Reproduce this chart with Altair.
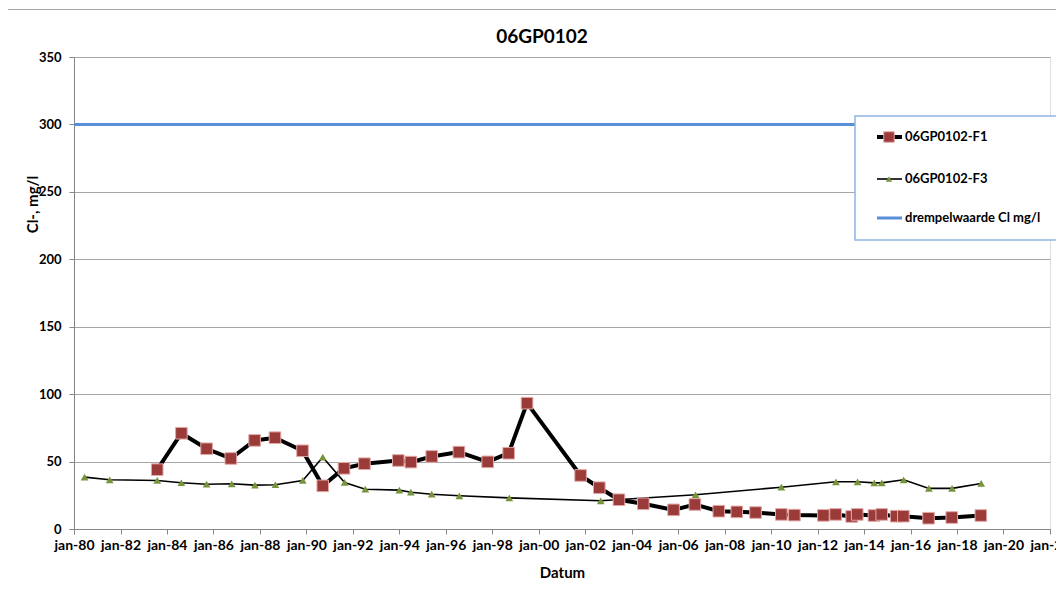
import altair as alt
import pandas as pd

# ---- data ----
f1_dates = ["1983-08-01", "1984-08-15", "1985-09-15", "1986-10-01", "1987-10-10",
            "1988-08-25", "1989-11-01", "1990-09-15", "1991-08-15", "1992-07-01",
            "1993-12-15", "1994-07-01", "1995-05-25", "1996-07-25", "1997-10-20",
            "1998-09-15", "1999-07-01", "2001-10-20", "2002-08-10", "2003-06-15",
            "2004-07-01", "2005-10-20", "2006-09-20", "2007-10-01", "2008-07-10",
            "2009-05-01", "2010-06-10", "2011-01-01", "2012-04-01", "2012-10-10",
            "2013-06-20", "2013-09-15", "2014-06-05", "2014-10-05", "2015-05-20",
            "2015-09-10", "2016-10-10", "2017-10-10", "2019-01-10"]
f1_values = [44.0, 71.0, 59.5, 52.3, 65.7, 67.7, 58.0, 32.0, 45.0, 48.4,
             50.8, 49.6, 53.8, 57.0, 49.8, 56.2, 93.3, 39.7, 30.6, 21.7,
             18.7, 14.2, 18.2, 13.2, 12.7, 12.2, 10.8, 10.3, 10.1, 10.8,
             9.3, 10.8, 10.0, 10.8, 9.5, 9.5, 8.0, 8.5, 10.0]

f3_dates = ["1980-06-15", "1981-07-15", "1983-08-01", "1984-08-15", "1985-09-15",
            "1986-10-15", "1987-10-15", "1988-09-01", "1989-11-05", "1990-09-15",
            "1991-08-25", "1992-07-15", "1994-01-01", "1994-07-01", "1995-05-25",
            "1996-08-01", "1998-09-25", "2002-09-01", "2006-10-01", "2010-06-10",
            "2012-10-15", "2013-09-20", "2014-06-10", "2014-10-05", "2015-09-15",
            "2016-10-15", "2017-10-15", "2019-01-15"]
f3_values = [38.5, 36.5, 36.0, 34.3, 33.2, 33.5, 32.5, 32.8, 36.0, 53.3,
             34.5, 29.5, 28.8, 27.3, 25.8, 24.6, 23.1, 20.9, 25.4, 31.0,
             35.0, 35.0, 34.2, 34.2, 36.5, 30.1, 30.1, 33.8]

threshold_dates = ["1980-01-01", "2022-01-01"]
threshold_values = [300, 300]

tick_years = list(range(1980, 2023, 2))
y_ticks = [0, 50, 100, 150, 200, 250, 300, 350]
legend_labels = ["06GP0102-F1", "06GP0102-F3", "drempelwaarde Cl mg/l"]
chart_title = "06GP0102"

FONT = "Lato"
RED = "#9B3B39"
GREEN = "#77933C"
BLUE = "#5A8FD8"

f1 = pd.DataFrame({"date": f1_dates, "value": f1_values})
f3 = pd.DataFrame({"date": f3_dates, "value": f3_values})
thr = pd.DataFrame({"date": threshold_dates, "value": threshold_values})

x_enc = alt.X(
    "date:T",
    scale=alt.Scale(domain=[alt.DateTime(year=1980, month=1, date=1),
                            alt.DateTime(year=2022, month=1, date=1)], nice=False),
    axis=alt.Axis(
        values=[alt.DateTime(year=y, month=1, date=1) for y in tick_years],
        labelExpr="'jan-' + timeFormat(datum.value, '%y')",
        grid=False, title="Datum", titleFont=FONT, titleFontSize=15,
        titleFontWeight="bold", titleColor="black", titleY=36, titleBaseline="top",
        labelFont=FONT, labelFontSize=14, labelFontWeight="bold", labelColor="black",
        labelPadding=4, labelOverlap=False, labelFlush=False,
        domainColor="#868686", tickColor="#868686", tickSize=5,
    ),
)
y_enc = alt.Y(
    "value:Q",
    scale=alt.Scale(domain=[0, 350], nice=False),
    axis=alt.Axis(
        values=y_ticks, grid=True, gridColor="#A6A6A6", gridWidth=1,
        title="Cl-, mg/l", titleFont=FONT, titleFontSize=15, titleFontWeight="bold",
        titleColor="black", titleX=-34, titleY=147,
        labelFont=FONT, labelFontSize=13, labelFontWeight="bold", labelColor="black",
        labelPadding=8, domainColor="#868686", tickColor="#868686", tickSize=5,
    ),
)

thr_line = alt.Chart(thr).mark_line(color=BLUE, strokeWidth=3).encode(x=x_enc, y=y_enc)
f3_line = alt.Chart(f3).mark_line(color="black", strokeWidth=1.6).encode(x=x_enc, y=y_enc)
f3_pts = alt.Chart(f3).mark_point(shape="triangle-up", filled=True, size=60,
                                  color=GREEN, opacity=1).encode(x=x_enc, y=y_enc)
f1_line = alt.Chart(f1).mark_line(color="black", strokeWidth=4).encode(x=x_enc, y=y_enc)
f1_pts = alt.Chart(f1).mark_square(size=135, color=RED, stroke="#E2A9A7",
                                   strokeWidth=1, opacity=1).encode(x=x_enc, y=y_enc)

# ---- legend and chart frame (decoration, pixel placed) ----
one = pd.DataFrame({"k": [0]})
legend_box = alt.Chart(one).mark_rect(fill="white", stroke="#8EB4E3", strokeWidth=1.5).encode(
    x=alt.value(781), x2=alt.value(988), y=alt.value(59), y2=alt.value(183))
rows_y = [80, 122, 161]
leg_layers = [legend_box]
leg_line_w = [4, 1.6, 3]
leg_line_c = ["black", "black", BLUE]
for i, lab in enumerate(legend_labels):
    ld = pd.DataFrame({"label": [lab]})
    leg_layers.append(alt.Chart(ld).mark_rule(color=leg_line_c[i], strokeWidth=leg_line_w[i]).encode(
        x=alt.value(803), x2=alt.value(828), y=alt.value(rows_y[i])))
    if i == 0:
        leg_layers.append(alt.Chart(ld).mark_square(size=110, color=RED, stroke="#E2A9A7",
                                                    strokeWidth=1, opacity=1).encode(
            x=alt.value(815), y=alt.value(rows_y[i])))
    elif i == 1:
        leg_layers.append(alt.Chart(ld).mark_point(shape="triangle-up", filled=True, size=40,
                                                   color=GREEN, opacity=1).encode(
            x=alt.value(815), y=alt.value(rows_y[i])))
    leg_layers.append(alt.Chart(ld).mark_text(align="left", baseline="middle", font=FONT,
                                              fontSize=13, fontWeight="bold", color="black").encode(
        x=alt.value(831), y=alt.value(rows_y[i]), text="label:N"))

frame_left = alt.Chart(one).mark_rule(color="#A6A6A6", strokeWidth=1.2).encode(
    x=alt.value(-67), y=alt.value(-47.5), y2=alt.value(525))
frame_top = alt.Chart(one).mark_rule(color="#A6A6A6", strokeWidth=1.2).encode(
    x=alt.value(-67), x2=alt.value(982), y=alt.value(-47.5))

title_df = pd.DataFrame({"t": [chart_title]})
title_mark = alt.Chart(title_df).mark_text(align="center", baseline="middle", font=FONT,
                                           fontSize=19, fontWeight="bold", color="black").encode(
    x=alt.value(468), y=alt.value(-20), text="t:N")

chart = alt.layer(frame_left, frame_top, title_mark, thr_line, f3_line, f3_pts,
                  f1_line, f1_pts, *leg_layers).properties(
    width=976, height=472,
    padding={"left": 66, "top": 49, "right": 6, "bottom": 54},
    autosize=alt.AutoSizeParams(type="none"),
).configure_view(strokeWidth=0, stroke="transparent").configure(background="white")

chart.save("out.html", embed_options={"renderer": "svg", "actions": False})
